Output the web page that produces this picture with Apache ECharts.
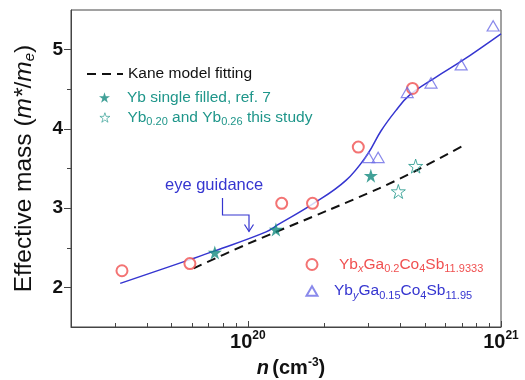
<!DOCTYPE html>
<html><head><meta charset="utf-8">
<script src="https://cdn.jsdelivr.net/npm/echarts@6/dist/echarts.min.js"></script>
<style>html,body{margin:0;padding:0;background:#fff}#c{width:525px;height:380px}</style>
</head><body><div id="c"></div>
<script>
// ---- data (n in cm^-3, effective mass m*/me) ----
const circleN = [3.18e19, 5.9e19, 1.36e20, 1.80e20, 2.73e20, 4.47e20];
const circleM = [2.21, 2.30, 3.06, 3.06, 3.77, 4.51];
const triN = [3.0e20, 3.27e20, 4.26e20, 5.29e20, 6.96e20, 9.31e20];
const triM = [3.64, 3.64, 4.46, 4.58, 4.81, 5.30];
const ref7N = [7.4e19, 1.29e20, 3.06e20];
const ref7M = [2.44, 2.73, 3.41];
const thisN = [3.93e20, 4.60e20];
const thisM = [3.21, 3.53];
const kaneN = [6.1e19, 1.0e20, 2.1e20, 3.3e20, 4.6e20, 7.2e20];
const kaneM = [2.24, 2.55, 2.98, 3.25, 3.47, 3.80];
const guideN = [3.13e19, 5.9e19, 7.4e19, 1.18e20, 1.33e20, 1.80e20, 2.44e20, 2.97e20, 3.35e20, 3.84e20, 4.33e20, 5.52e20, 7.02e20, 1e21];
const guideM = [2.05, 2.35, 2.46, 2.70, 2.80, 3.05, 3.35, 3.68, 3.97, 4.23, 4.42, 4.65, 4.86, 5.20];
const xMajorExp = [20, 21];
const xMinor = [3e19, 4e19, 5e19, 6e19, 7e19, 8e19, 9e19, 2e20, 3e20, 4e20, 5e20, 6e20, 7e20, 8e20, 9e20];
const yMajor = [2, 3, 4, 5];
const yMinor = [2.5, 3.5, 4.5];

const zip = (a, b) => a.map((v, i) => [v, b[i]]);
const xMajor = xMajorExp.map(e => Math.pow(10, e) * 0.999999);
const F = 'Liberation Sans, Arial, sans-serif';
const AX = '#444';
const RED = '#f05050', BLUE = '#3535d0', TRI = '#6b6be6', TEAL = '#138a7e', TEALT = '#1f968a';
const STAR = 'path://M50,0 L61.2,34.5 L97.6,34.5 L68.2,55.9 L79.4,90.5 L50,69.1 L20.6,90.5 L31.8,55.9 L2.4,34.5 L38.8,34.5 Z';
const TRIP = 'path://M5,0 L10,8.66 L0,8.66 Z';

const names = {
  kane: 'Kane model fitting',
  ref7: 'Yb single filled, ref. 7',
  thisS: 'Yb0.20 and Yb0.26 this study',
  circ: 'YbxGa0.2Co4Sb11.9333',
  tri: 'YbyGa0.15Co4Sb11.95'
};
const richFmt = {
  [names.kane]: names.kane,
  [names.ref7]: names.ref7,
  [names.thisS]: 'Yb{sub|0.20} and Yb{sub|0.26} this study',
  [names.circ]: 'Yb{subi|x}Ga{sub|0.2}Co{sub|4}Sb{sub|11.9333}',
  [names.tri]: 'Yb{subi|y}Ga{sub|0.15}Co{sub|4}Sb{sub|11.95}'
};
function legendStyle(color, padLeft) {
  return {
    fontFamily: F, fontSize: 15.5, color: color, padding: [0, 0, 0, padLeft],
    rich: {
      sub: { fontFamily: F, fontSize: 11, color: color, padding: [9, 0, 0, 0] },
      subi: { fontFamily: F, fontSize: 11, fontStyle: 'italic', color: color, padding: [9, 0, 0, 0] }
    }
  };
}
function mkLegend(item, left, top, w, h, color, padLeft) {
  return {
    data: [item], left: left, top: top, itemWidth: w, itemHeight: h, padding: 0,
    orient: 'vertical', selectedMode: false,
    formatter: n => richFmt[n], textStyle: legendStyle(color, padLeft)
  };
}

const chart = echarts.init(document.getElementById('c'), null, { renderer: 'canvas' });
const opt = {
  animation: false,
  backgroundColor: '#fff',
  grid: { left: 71, right: 24, top: 10, bottom: 53, show: true, borderColor: AX, borderWidth: 1, outerBoundsMode: 'none' },
  xAxis: [{
    type: 'log', logBase: 10, min: 2e19, max: 1e21, position: 'bottom',
    axisLine: { show: true, lineStyle: { color: AX, width: 1 } },
    axisTick: { show: true, inside: true, length: 6, customValues: xMajor, lineStyle: { color: AX } },
    splitLine: { show: false },
    axisLabel: {
      customValues: xMajor, margin: 3, showMaxLabel: true, showMinLabel: true,
      formatter: v => '{b|10}{sup|' + Math.round(Math.log10(v)) + '}',
      rich: {
        b: { fontFamily: F, fontSize: 20, fontWeight: 'bold', color: '#111' },
        sup: { fontFamily: F, fontSize: 12, fontWeight: 'bold', color: '#111', padding: [0, 0, 12, 0] }
      }
    },
    name: '{i|n} {b|(cm}{sup|-3}{b|)}', nameLocation: 'middle', nameGap: 28,
    nameTextStyle: {
      padding: [0, 0, 0, 10],
      rich: {
        i: { fontFamily: F, fontSize: 20, fontWeight: 'bold', fontStyle: 'italic', color: '#111' },
        b: { fontFamily: F, fontSize: 20, fontWeight: 'bold', color: '#111' },
        sup: { fontFamily: F, fontSize: 12, fontWeight: 'bold', color: '#111', padding: [0, 0, 12, 0] }
      }
    }
  }, {
    type: 'log', logBase: 10, min: 2e19, max: 1e21, position: 'bottom',
    axisLine: { show: false },
    axisTick: { show: true, inside: true, length: 4, customValues: xMinor, lineStyle: { color: AX } },
    axisLabel: { show: false }, splitLine: { show: false }
  }],
  yAxis: [{
    type: 'value', min: 1.5, max: 5.5, position: 'left',
    axisLine: { show: true, lineStyle: { color: AX, width: 1 } },
    axisTick: { show: true, inside: false, length: 7, customValues: yMajor, lineStyle: { color: AX } },
    splitLine: { show: false },
    axisLabel: { customValues: yMajor, margin: 8, fontFamily: F, fontSize: 19, fontWeight: 'bold', color: '#111' },
    name: 'Effective mass ({i|m*}/{i|m}{sub|e})', nameLocation: 'middle', nameGap: 34,
    nameTextStyle: {
      fontFamily: F, fontSize: 24.5, color: '#111',
      rich: {
        i: { fontFamily: F, fontSize: 24.5, fontStyle: 'italic', color: '#111' },
        sub: { fontFamily: F, fontSize: 15, fontStyle: 'italic', color: '#111', padding: [10, 0, 0, 0] }
      }
    }
  }, {
    type: 'value', min: 1.5, max: 5.5, position: 'left',
    axisLine: { show: false },
    axisTick: { show: true, inside: false, length: 4, customValues: yMinor, lineStyle: { color: AX } },
    axisLabel: { show: false }, splitLine: { show: false }
  }],
  legend: [
    mkLegend({ name: names.kane, itemStyle: { opacity: 0 } }, 86, 66, 36, 14, '#111', 0),
    mkLegend({ name: names.ref7 }, 99, 89.5, 11, 11, TEALT, 12),
    mkLegend({ name: names.thisS, itemStyle: { borderWidth: 0.8 } }, 99.5, 109.5, 10, 10, TEALT, 12.5),
    mkLegend({ name: names.circ }, 305.5, 256.5, 11, 11, RED, 16.5),
    mkLegend({ name: names.tri }, 305.5, 283, 11, 10, BLUE, 11.5)
  ],
  series: [
    { name: 'eye guidance', type: 'line', data: zip(guideN, guideM), smooth: 0.4, showSymbol: false, symbol: 'none',
      lineStyle: { color: BLUE, width: 1.5 }, z: 2 },
    { name: names.kane, type: 'line', data: zip(kaneN, kaneM), smooth: 0.3, showSymbol: false, symbol: 'none', symbolSize: 0,
      lineStyle: { color: '#111', width: 2, type: [9, 6] }, itemStyle: { color: '#111' }, z: 2 },
    { name: names.circ, type: 'scatter', data: zip(circleN, circleM), symbol: 'emptyCircle', symbolSize: 11,
      itemStyle: { color: RED, borderColor: RED, borderWidth: 1.1 }, z: 3 },
    { name: names.tri, type: 'scatter', data: zip(triN, triM), symbol: TRIP, symbolSize: [12, 10.4],
      itemStyle: { color: 'rgba(255,255,255,0)', borderColor: TRI, borderWidth: 1.2 }, z: 3 },
    { name: names.ref7, type: 'scatter', data: zip(ref7N, ref7M), symbol: STAR, symbolSize: 14,
      itemStyle: { color: TEAL }, z: 4 },
    { name: names.thisS, type: 'scatter', data: zip(thisN, thisM), symbol: STAR, symbolSize: 14,
      itemStyle: { color: 'rgba(255,255,255,0)', borderColor: TEALT, borderWidth: 1 }, z: 4 }
  ],
  graphic: [
    { type: 'text', left: 165, top: 177, style: { text: 'eye guidance', fontFamily: F, fontSize: 16.5, fill: BLUE } },
    { type: 'polyline', shape: { points: [[222.5, 198], [222.5, 215], [249, 215], [249, 231.5]] },
      style: { stroke: BLUE, lineWidth: 1.2, fill: null } },
    { type: 'polyline', shape: { points: [[244.5, 224.5], [249, 231.5], [253.5, 224.5]] },
      style: { stroke: BLUE, lineWidth: 1.2, fill: null } }
  ]
};
chart.setOption(opt);
</script></body></html>
